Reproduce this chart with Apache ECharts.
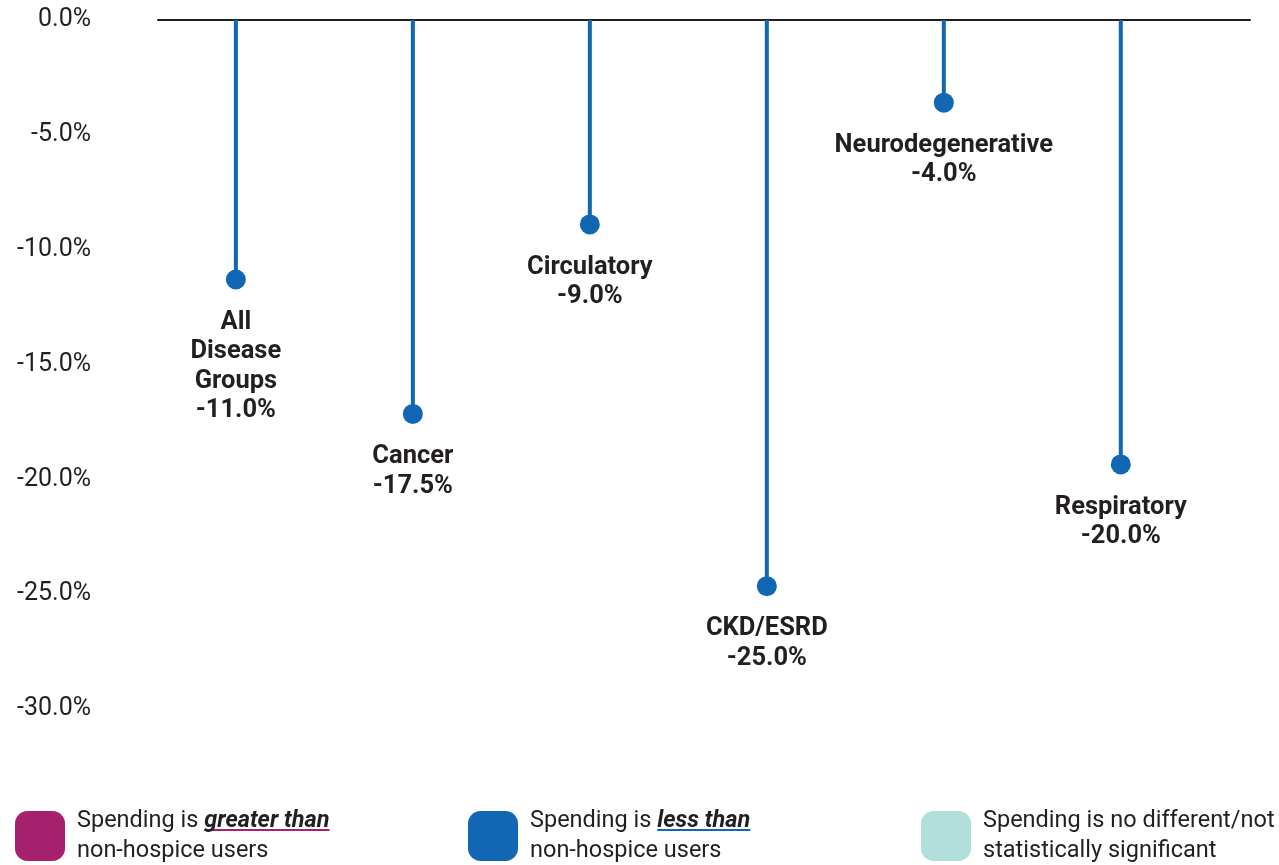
<!DOCTYPE html>
<html><head><meta charset="utf-8">
<script src="https://cdn.jsdelivr.net/npm/echarts@6/dist/echarts.min.js"></script>
<style>html,body{margin:0;padding:0;background:#fff}#c{width:1279px;height:865px}</style>
</head><body><div id="c"></div>
<script>
const categories = ['All\nDisease\nGroups', 'Cancer', 'Circulatory', 'CKD/ESRD', 'Neurodegenerative', 'Respiratory'];
const values = [-11.3, -17.15, -8.9, -24.65, -3.6, -19.35];
const valueLabels = ['-11.0%', '-17.5%', '-9.0%', '-25.0%', '-4.0%', '-20.0%'];
const yTicks = [0, -5, -10, -15, -20, -25, -30];
const legendNames = ['greater', 'less', 'nodiff'];

const BLUE = '#1167b3', MAG = '#a5206d', TEAL = '#b2dfdb', INK = '#231f20';
const FONT = 'Roboto';

function underline(color) {
  return new echarts.graphic.LinearGradient(0, 0, 0, 1, [
    {offset: 0, color: 'rgba(0,0,0,0)'},
    {offset: 0.86, color: 'rgba(0,0,0,0)'},
    {offset: 0.86, color: color},
    {offset: 0.93, color: color},
    {offset: 0.93, color: 'rgba(0,0,0,0)'},
    {offset: 1, color: 'rgba(0,0,0,0)'}
  ]);
}

const legendText = {
  greater: '{a|Spending is }{m|greater than}\n{a|non-hospice users}',
  less: '{a|Spending is }{b|less than}\n{a|non-hospice users}',
  nodiff: '{a|Spending is no different/not}\n{a|statistically significant}'
};
const FS = 23.5, LH = 30;
const rich = {
  a: {fontFamily: FONT, fontSize: FS, color: INK, lineHeight: LH},
  m: {fontFamily: FONT, fontSize: FS, color: INK, lineHeight: LH, fontStyle: 'italic', fontWeight: 'bold', backgroundColor: underline(MAG)},
  b: {fontFamily: FONT, fontSize: FS, color: INK, lineHeight: LH, fontStyle: 'italic', fontWeight: 'bold', backgroundColor: underline(BLUE)}
};
function mkLegend(name, left) {
  return {
    data: [name], left: left, top: 809, padding: 0, icon: 'roundRect',
    itemWidth: 50, itemHeight: 50, selectedMode: false,
    formatter: n => legendText[n],
    itemStyle: {opacity: 1},
    textStyle: {rich: rich, padding: [0, 0, 0, 7]}
  };
}

const chart = echarts.init(document.getElementById('c'), null, {renderer: 'canvas'});
chart.setOption({
  animation: false,
  grid: {left: 158, right: 29, top: 20, bottom: 156, containLabel: false},
  xAxis: {
    type: 'value', min: -0.44, max: 5.73, position: 'top',
    axisLine: {show: true, onZero: false, lineStyle: {color: INK, width: 2}},
    axisTick: {show: false}, axisLabel: {show: false}, splitLine: {show: false}
  },
  yAxis: {
    type: 'value', min: -30, max: 0, interval: 5,
    axisLine: {show: false}, axisTick: {show: false}, splitLine: {show: false},
    axisLabel: {
      margin: 67, fontFamily: FONT, fontSize: 25, color: INK,
      formatter: v => (yTicks.includes(v) ? (Math.abs(v) < 1e-9 ? '0.0%' : v.toFixed(1) + '%') : '')
    }
  },
  legend: [mkLegend('greater', 15), mkLegend('less', 468), mkLegend('nodiff', 921)],
  series: [
    {name: 'greater', type: 'scatter', data: [], itemStyle: {color: MAG, opacity: 1}},
    {
      name: 'less', type: 'bar', barWidth: 4, itemStyle: {color: BLUE, opacity: 1},
      data: values.map((v, i) => [i, v]), z: 2
    },
    {
      name: 'less', type: 'scatter', symbol: 'circle', symbolSize: 20, itemStyle: {color: BLUE, opacity: 1}, z: 3,
      data: values.map((v, i) => [i, v]),
      label: {
        show: true, position: 'bottom', distance: 18,
        fontFamily: FONT, fontSize: 25.5, fontWeight: 'bold', color: INK, lineHeight: 29.5, align: 'center',
        formatter: p => categories[p.dataIndex] + '\n' + valueLabels[p.dataIndex]
      }
    },
    {name: 'nodiff', type: 'scatter', data: [], itemStyle: {color: TEAL, opacity: 1}}
  ]
});
</script></body></html>
